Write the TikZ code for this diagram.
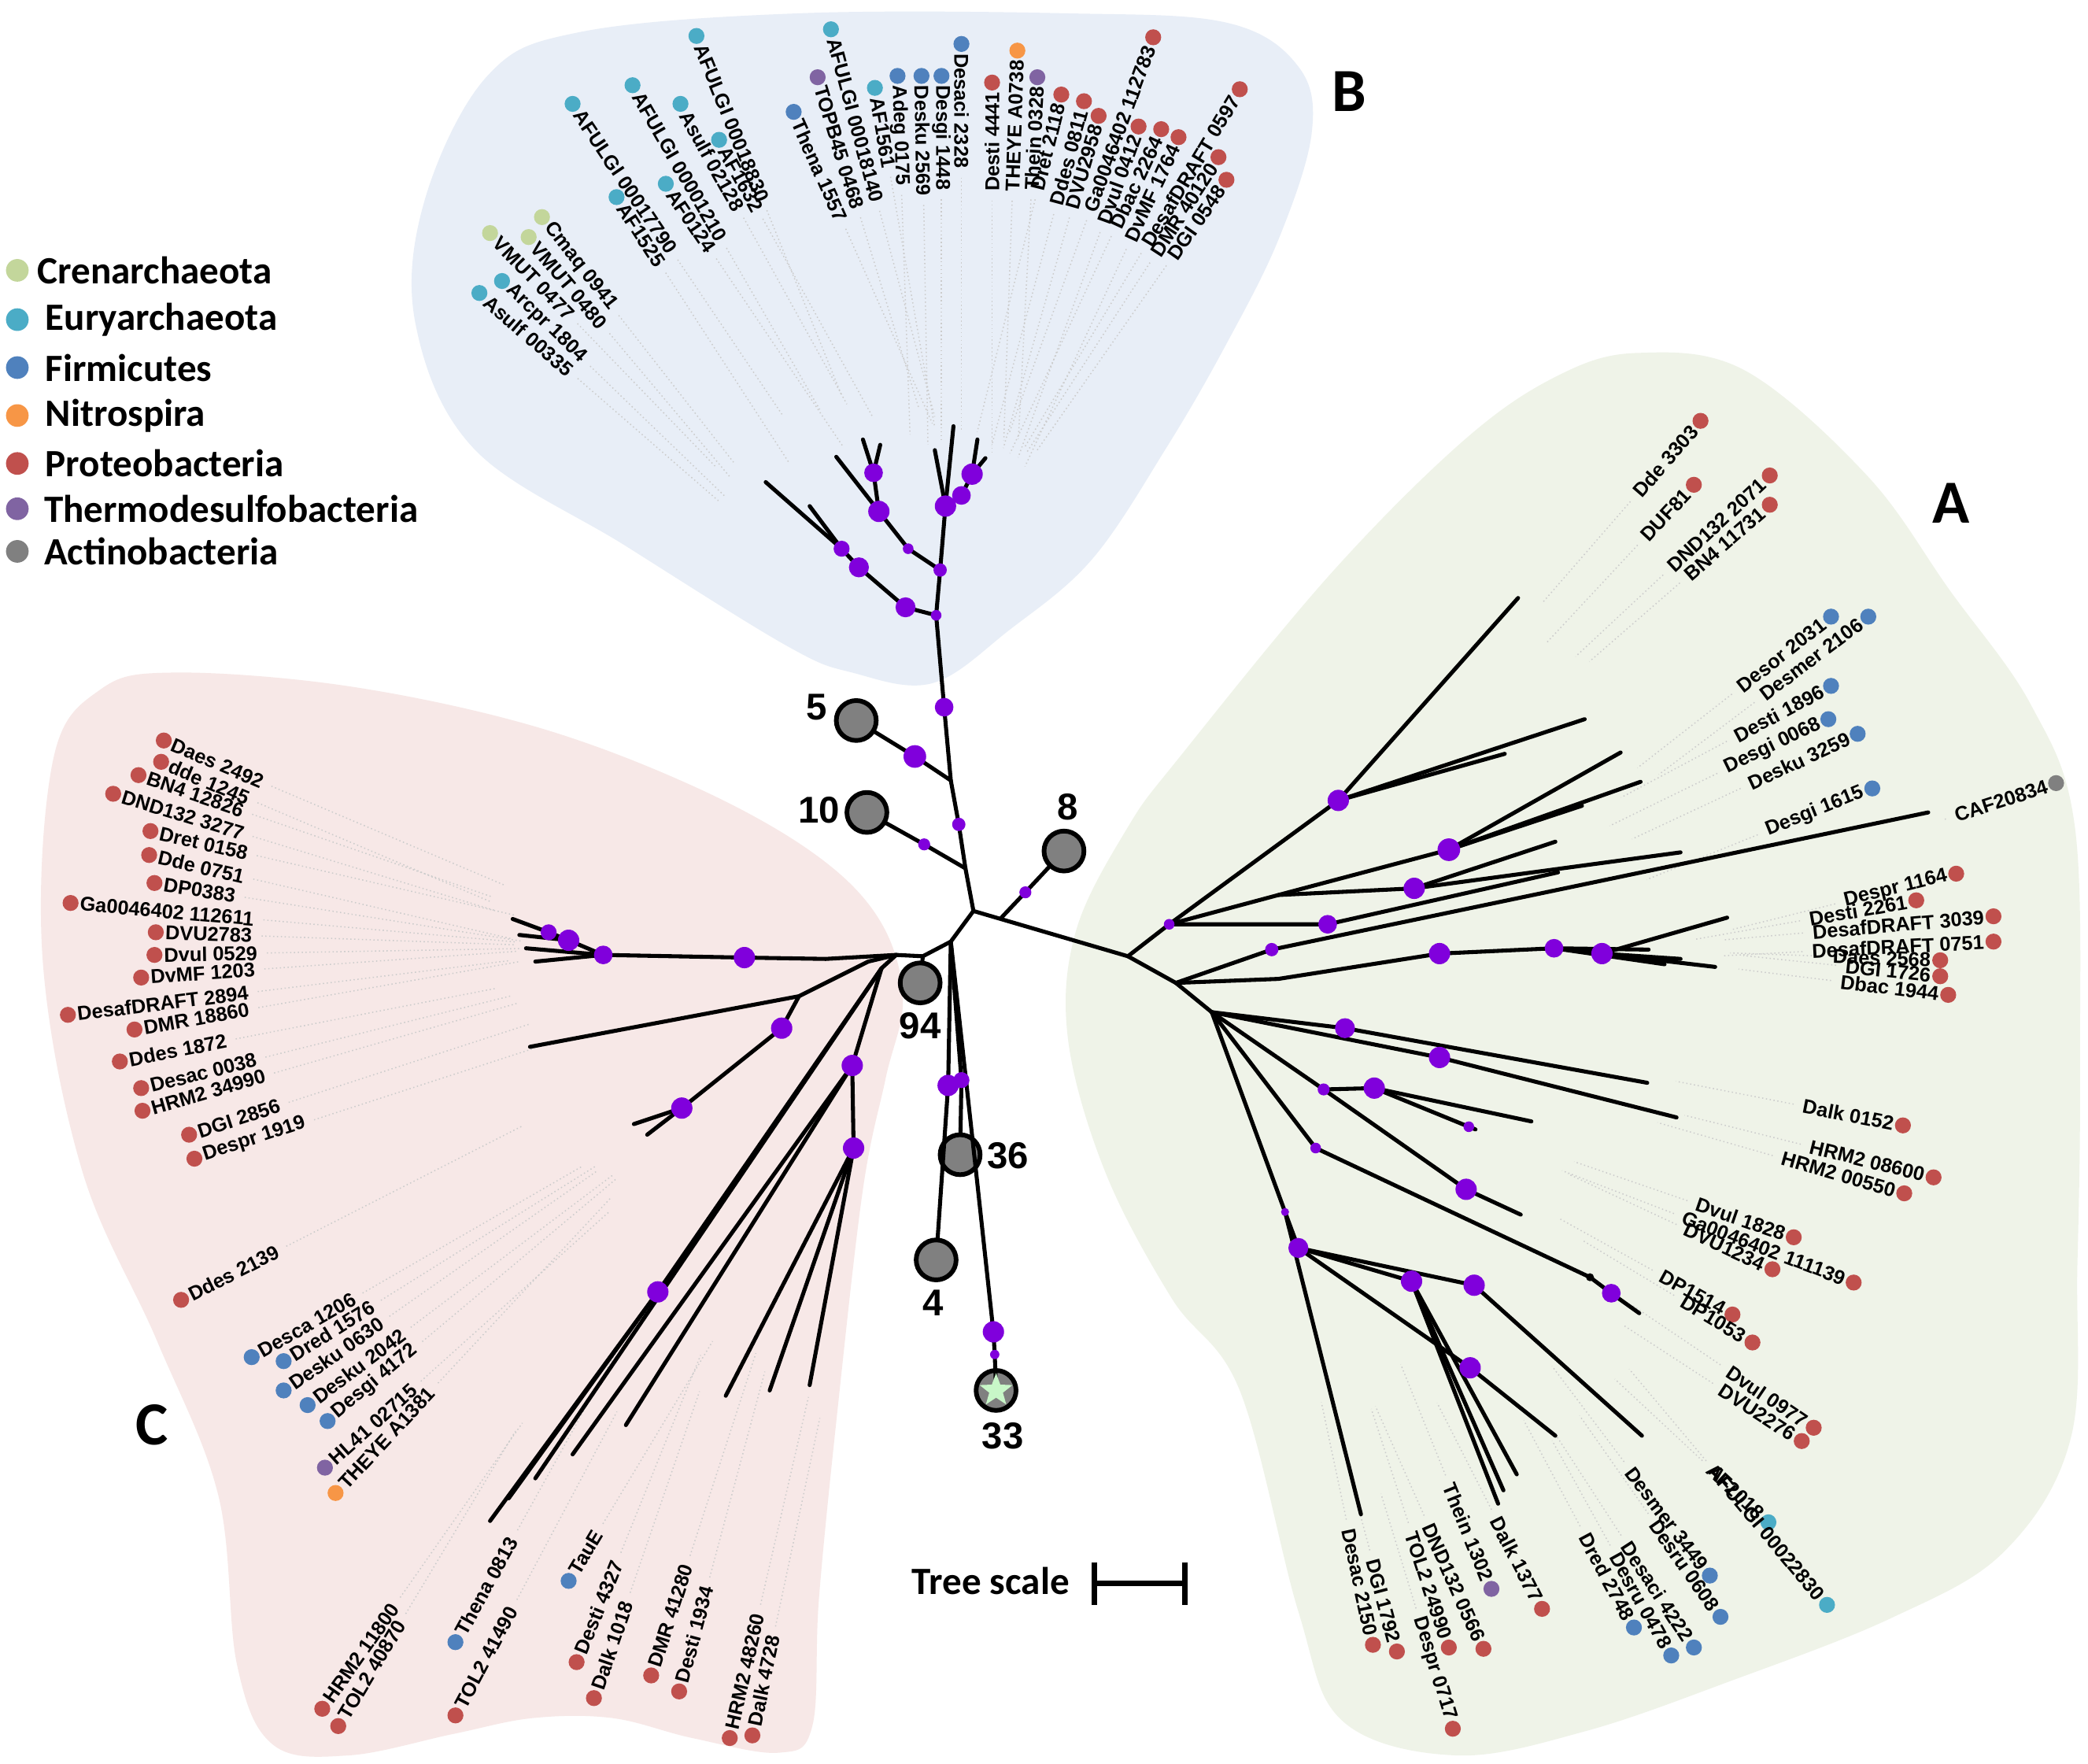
\documentclass[tikz,border=0pt]{standalone}
\usepackage{fontspec}
\setmainfont{Liberation Sans}
\newfontfamily\calfont{Carlito}
\usetikzlibrary{calc,shapes.geometric}
\pgfdeclarelayer{bg}
\pgfsetlayers{bg,main}
\definecolor{cren}{HTML}{C3D69B}
\definecolor{eury}{HTML}{4BACC6}
\definecolor{firm}{HTML}{4F81BD}
\definecolor{nitr}{HTML}{F79646}
\definecolor{prot}{HTML}{C0504D}
\definecolor{therm}{HTML}{8064A2}
\definecolor{actb}{HTML}{808080}
\definecolor{bbg}{HTML}{E8EEF7}
\definecolor{abg}{HTML}{EFF3E8}
\definecolor{cbg}{HTML}{F7E8E7}
\definecolor{boot}{HTML}{8000DC}
\definecolor{clgray}{HTML}{808080}
\definecolor{starg}{HTML}{C8F7C8}
\tikzset{
  br/.style={line width=3pt, line cap=round, line join=round},
  leafdot/.style={circle, fill=#1, minimum size=12pt, inner sep=0pt},
  bsd/.style={circle, fill=boot, minimum size=#1, inner sep=0pt},
  clps/.style={circle, draw=black, line width=3.5pt, fill=clgray, minimum size=30pt, inner sep=0pt},
  labtxt/.style={font=\fontsize{15}{15}\selectfont\bfseries, inner xsep=7pt, inner ysep=0pt},
  labbold/.style={font=\fontsize{15}{15}\selectfont\bfseries, inner xsep=7pt, inner ysep=0pt},
  leader/.style={draw=black!20, dotted, line width=0.9pt},
  numlab/.style={font=\fontsize{28}{28}\selectfont\bfseries, inner sep=0pt},
  legtxt/.style={font=\calfont\fontsize{29}{29}\selectfont\bfseries, anchor=west, inner sep=0pt},
  clade/.style={font=\calfont\fontsize{46}{46}\selectfont\bfseries, inner sep=0pt},
}
\begin{document}
\begin{tikzpicture}[x=1pt,y=-1pt]
\useasboundingbox (0,0) rectangle (1568,1324);
\begin{pgfonlayer}{bg}
\fill[white] (0,0) rectangle (1568,1324);
% clade backgrounds
\fill[bbg] plot[smooth cycle, tension=0.6] coordinates {(436,24) (600,10) (800,10) (921,17) (975,50) (985,100) (960,180) (920,260) (876,336) (820,420) (758,473) (700,513) (640,505) (591,485) (470,410) (356,337) (312,243) (319,150) (366,57)};
\fill[abg] plot[smooth cycle, tension=0.6] coordinates {(1230,265) (1310,278) (1402,357) (1464,443) (1525,529) (1558,620) (1562,800) (1560,950) (1555,1080) (1505,1165) (1420,1215) (1300,1262) (1190,1300) (1093,1318) (1008,1292) (975,1210) (931,1044) (880,975) (830,880) (802,780) (808,699) (847,621) (887,567) (1000,430) (1100,330) (1170,282)};
\fill[cbg] plot[smooth cycle, tension=0.6] coordinates {(40,570) (75,518) (130,505) (260,515) (400,545) (520,590) (610,640) (660,690) (678,749) (665,810) (648,893) (629,1058) (615,1200) (610,1296) (585,1316) (520,1305) (460,1290) (400,1290) (340,1302) (262,1318) (205,1310) (178,1250) (164,1123) (118,1007) (62,880) (32,720)};
\end{pgfonlayer}

% ---------- legend ----------
\foreach \c/\t/\yy/\xx [count=\i] in {cren/Crenarchaeota/203/28, eury/Euryarchaeota/240/34, firm/Firmicutes/276/34, nitr/Nitrospira/312/34, prot/Proteobacteria/348/34, therm/Thermodesulfobacteria/382/33, actb/Actinobacteria/414/33}{
  \node[circle, fill=\c, minimum size=17pt, inner sep=0pt] (lg\i) at (13,\yy) {};
  \node[legtxt] (lt\i) at (\xx,\yy) {\t};
}

% clade letters
\node[clade] (lA) at (1465,378) {A};
\node[clade] (lB) at (1013,69) {B};
\node[clade] (lC) at (114,1070) {C};

% ---------- tree coordinates ----------
\coordinate (c0) at (731,684);
\coordinate (b1) at (725,652);
\coordinate (b2) at (720,619);
\coordinate (b3) at (714,586);
\coordinate (b4) at (709,531);
\coordinate (b5) at (703,462);
\coordinate (k5) at (687,568);
\coordinate (k10) at (694,634);
\coordinate (k8) at (770,670);
\coordinate (r8) at (752,689);
% B fan
\coordinate (bA) at (680,456);
\coordinate (bB) at (645,426);
\coordinate (bC) at (632,412);
\coordinate (bD) at (706,428);
\coordinate (bE) at (682,412);
\coordinate (bF) at (660,384);
\coordinate (bG) at (656,355);
\coordinate (bH) at (710,380);
\coordinate (bI) at (722,372);
\coordinate (bJ) at (730,356);

% collapsed circles
\node[clps] (g5) at (643,541) {};
\node[clps] (g10) at (651,610) {};
\node[clps] (g8) at (799,639) {};
\node[clps] (g94) at (691,738) {};
\node[clps] (g36) at (721,867) {};
\node[clps] (g4) at (703,946) {};
\node[clps] (g33) at (748,1044) {};

% trunk and B
\draw[br] (c0) -- (b1) -- (b2) -- (b3) -- (b4) -- (b5);
\draw[br] (b3) -- (k5) -- (g5);
\draw[br] (b1) -- (k10) -- (g10);
\draw[br] (r8) -- (k8) -- (g8);
\draw[br] (b5) -- (bA) -- (bB) -- (bC) -- (575,362);
\draw[br] (bC) -- (608,380);
\draw[br] (b5) -- (bD) -- (bE) -- (bF) -- (628,343);
\draw[br] (bF) -- (bG) -- (648,330);
\draw[br] (bG) -- (661,334);
\draw[br] (bD) -- (bH) -- (716,320);
\draw[br] (bH) -- (bI) -- (bJ) -- (740,344);
\draw[br] (bJ) -- (734,330);
\draw[br] (bH) -- (702,338);

% A
\coordinate (a1) at (847,718);
\coordinate (a2) at (878,694);
\coordinate (a3) at (883,738);
\draw[br] (c0) -- (a1) -- (a3);
\draw[br] (a1) -- (a2);
\coordinate (au2) at (960,672);
\coordinate (pu1) at (1005,601);
\coordinate (pu2) at (1088,638);
\coordinate (pu3) at (1062,667);
\coordinate (pu4) at (997,694);
\coordinate (pu5) at (955,713);
\draw[br] (a2) -- (pu1) -- (1140,449);
\draw[br] (pu1) -- (1190,540);
\draw[br] (pu1) -- (1130,566);
\draw[br] (a2) -- (au2) -- (pu2) -- (1232,587);
\draw[br] (pu2) -- (1217,565);
\draw[br] (pu2) -- (1188,605);
\draw[br] (au2) -- (pu3) -- (1262,640);
\draw[br] (pu3) -- (1168,632);
\draw[br] (a2) -- (pu4) -- (1170,655);
\draw[br] (a3) -- (pu5) -- (1448,610);
\coordinate (am) at (960,735);
\coordinate (pm1) at (1081,716);
\coordinate (pm2) at (1167,712);
\coordinate (pm3) at (1203,716);
\draw[br] (a3) -- (am) -- (pm1) -- (pm2) -- (pm3) -- (1297,689);
\draw[br] (pm3) -- (1288,726);
\draw[br] (pm3) -- (1262,720);
\draw[br] (pm2) -- (1250,724);
\draw[br] (pm2) -- (1238,713);
\coordinate (al0) at (910,760);
\coordinate (pl1) at (1010,772);
\coordinate (pl2) at (1081,794);
\coordinate (pl3) at (994,818);
\coordinate (pl4) at (1032,817);
\coordinate (pl5) at (1103,846);
\coordinate (pl6) at (1101,893);
\coordinate (pl7) at (988,862);
\coordinate (kn1) at (1194,959);
\coordinate (pl8) at (1210,971);
\coordinate (pl9) at (965,910);
\coordinate (pl10) at (975,937);
\coordinate (pl11) at (1060,962);
\coordinate (pl12) at (1107,965);
\coordinate (pl13) at (1104,1027);
\draw[br] (a3) -- (al0);
\draw[br] (al0) -- (pl1) -- (1237,813);
\draw[br] (al0) -- (pl2) -- (1259,839);
\draw[br] (al0) -- (pl3) -- (pl4) -- (pl5) -- (1108,848);
\draw[br] (pl4) -- (1150,842);
\draw[br] (pl3) -- (pl6) -- (1142,912);
\draw[br] (al0) -- (pl7) -- (kn1) -- (pl8) -- (1231,986);
\draw[br] (al0) -- (pl9) -- (1022,1137);
\draw[br] (pl9) -- (pl10) -- (pl11) -- (1139,1107);
\draw[br] (pl11) -- (1129,1119);
\draw[br] (pl11) -- (1125,1129);
\draw[br] (pl10) -- (pl12) -- (1233,1078);
\draw[br] (pl10) -- (pl13) -- (1168,1078);
\fill (kn1) circle (3pt);

% C
\coordinate (cc1) at (714,707);
\coordinate (cc2) at (693,718);
\coordinate (nC) at (673,717);
\coordinate (cu1) at (620,720);
\coordinate (pc1) at (559,719);
\coordinate (pc2) at (453,717);
\coordinate (pc3) at (427,706);
\coordinate (pc4) at (412,700);
\draw[br] (c0) -- (cc1) -- (cc2) -- (nC) -- (cu1) -- (pc1) -- (pc2) -- (pc3) -- (pc4) -- (385,690);
\draw[br] (pc3) -- (390,702);
\draw[br] (pc2) -- (395,712);
\draw[br] (pc2) -- (402,722);
\draw[br] (cc2) -- (g94);
\coordinate (cm0) at (652,722);
\coordinate (cm1) at (600,748);
\coordinate (pcm) at (587,772);
\coordinate (pcm2) at (512,832);
\draw[br] (nC) -- (cm0) -- (cm1) -- (398,786);
\draw[br] (cm1) -- (pcm) -- (pcm2) -- (476,844);
\draw[br] (pcm2) -- (486,852);
\coordinate (cl0) at (662,727);
\coordinate (pcl1) at (494,970);
\coordinate (pcl2) at (640,800);
\coordinate (pcl3) at (641,862);
\draw[br] (nC) -- (cl0) -- (pcl1) -- (368,1142);
\draw[br] (pcl1) -- (382,1125);
\draw[br] (cl0) -- (402,1110);
\draw[br] (cl0) -- (pcl2) -- (430,1092);
\draw[br] (pcl2) -- (470,1070);
\draw[br] (pcl2) -- (pcl3) -- (608,1040);
\draw[br] (pcl3) -- (545,1048);
\draw[br] (pcl3) -- (578,1044);

% 94/36/4/33
\coordinate (pd1) at (712,815);
\coordinate (pd2) at (722,811);
\coordinate (pd3) at (746,1000);
\coordinate (pd4) at (747,1017);
\draw[br] (cc1) -- (pd1) -- (g4);
\draw[br] (cc1) -- (pd2) -- (g36);
\draw[br] (cc1) -- (733,880) -- (pd3) -- (pd4) -- (g33.center);
\node[star, star points=5, star point ratio=2.4, fill=starg, minimum size=26pt, inner sep=0pt] (st33) at (g33) {};

% bootstrap dots
\foreach \p/\s [count=\i] in {b2/10pt, b4/14pt, b5/8pt, k5/17pt, k10/9pt, k8/9pt, bA/15pt, bB/15pt, bC/12pt, bD/10pt, bE/8pt, bF/16pt, bG/14pt, bH/16pt, bI/14pt, bJ/16pt, a2/8pt, pu1/16pt, pu2/17pt, pu3/16pt, pu4/14pt, pu5/10pt, pm1/16pt, pm2/14pt, pm3/16pt, pl1/15pt, pl2/16pt, pl3/9pt, pl4/16pt, pl5/8pt, pl6/16pt, pl7/8pt, pl8/14pt, pl9/6pt, pl10/15pt, pl11/16pt, pl12/16pt, pl13/16pt, pc1/16pt, pc2/14pt, pc3/16pt, pc4/12pt, pcm/16pt, pcm2/16pt, pcl1/16pt, pcl2/16pt, pcl3/16pt, pd1/16pt, pd2/12pt, pd3/16pt, pd4/7pt}{
  \node[bsd=\s] (bs\i) at (\p) {};
}

% numbers
\node[numlab] (n5) at (613,531) {5};
\node[numlab] (n10) at (615,608) {10};
\node[numlab] (n8) at (802,606) {8};
\node[numlab] (n94) at (691,770) {94};
\node[numlab] (n36) at (757,868) {36};
\node[numlab] (n4) at (701,978) {4};
\node[numlab] (n33) at (753,1078) {33};

% tree scale
\node[font=\calfont\fontsize{29}{29}\selectfont\bfseries, inner sep=0pt] (ts) at (744,1187) {Tree scale};
\coordinate (sc1) at (822,1189);
\coordinate (sc2) at (890,1189);
\draw[line width=4pt] (sc1) -- (sc2);
\draw[line width=4pt] ($(sc1)+(0,-16)$) -- ($(sc1)+(0,16)$);
\draw[line width=4pt] ($(sc2)+(0,-16)$) -- ($(sc2)+(0,16)$);

% ---------- leaves reading away from the dot ----------
\foreach \x/\y/\r/\c/\t/\l [count=\i] in {
360/220/-41/eury/Asulf 00335/140, 377/211/-44/eury/Arcpr 1804/140, 368/175/-46/cren/VMUT 0477/150, 397/178/-50/cren/VMUT 0480/140, 407/163/-52/cren/Cmaq 0941/140, 463/148/-57/eury/AF1525/170, 430/78/-56/eury/AFULGI 00017790/140, 500/138/-56/eury/AF0124/170, 475/64/-60/eury/AFULGI 00001210/140, 511/78/-61/eury/Asulf 02128/160, 540/105/-61/eury/AF1632/170, 523/27/-68/eury/AFULGI 00018830/150, 596/84/-66/firm/Thena 1557/160, 614/58/-73/therm/TOPB45 0468/150, 624/22/-75/eury/AFULGI 00018140/160, 657/66/-80/eury/AF1561/190, 674/57/-88/firm/Adeg 0175/180, 692/57/-89/firm/Desku 2569/180, 707/57/-90/firm/Desgi 1448/180, 722/33/-90/firm/Desaci 2328/190}{
  \node[leafdot=\c] (dL\i) at (\x,\y) {};
  \node[labtxt, rotate=\r, anchor=west] (tL\i) at (dL\i.center) {\t};
  \begin{pgfonlayer}{bg}
  \draw[leader] (tL\i.east) -- ($(tL\i.east)!-\l pt!(tL\i.west)$);
  \end{pgfonlayer}
}
\foreach \x/\y/\r/\c/\t/\l [count=\i] in {
123/556/-23/prot/Daes 2492/190, 121/572/-23/prot/dde 1245/190, 104/582/-19/prot/BN4 12826/190, 85/596/-17/prot/DND132 3277/190, 113/624/-13/prot/Dret 0158/200, 112/642/-13/prot/Dde 0751/200, 116/663/-9/prot/DP0383/210, 53/678/-5/prot/Ga0046402 112611/190, 117/700/-2/prot/DVU2783/190, 116/717/1/prot/Dvul 0529/190, 106/734/4/prot/DvMF 1203/190, 51/762/7/prot/DesafDRAFT 2894/190, 101/773/10/prot/DMR 18860/200, 90/797/11/prot/Ddes 1872/200, 106/817/14/prot/Desac 0038/190, 107/834/16/prot/HRM2 34990/190, 142/852/18/prot/DGI 2856/190, 146/870/18/prot/Despr 1919/190,
136/976/27/prot/Ddes 2139/200, 189/1019/30/firm/Desca 1206/190, 213/1022/32/firm/Dred 1576/190, 213/1044/35/firm/Desku 0630/190, 231/1055/37/firm/Desku 2042/190, 246/1067/40/firm/Desgi 4172/190, 244/1102/42/therm/HL41 02715/190, 252/1121/47/nitr/THEYE A1381/190,
242/1283/55/prot/HRM2 11800/160, 254/1296/59/prot/TOL2 40870/160, 342/1233/61/firm/Thena 0813/160, 342/1288/62/prot/TOL2 41490/160, 427/1187/59/firm/TauE/160, 433/1248/68/prot/Desti 4327/160, 446/1275/71/prot/Dalk 1018/160, 489/1258/72/prot/DMR 41280/160, 510/1270/75/prot/Desti 1934/160, 548/1305/77/prot/HRM2 48260/160, 565/1303/78/prot/Dalk 4728/160}{
  \node[leafdot=\c] (dC\i) at (\x,\y) {};
  \node[labbold, rotate=\r, anchor=west] (tC\i) at (dC\i.center) {\t};
  \begin{pgfonlayer}{bg}
  \draw[leader] (tC\i.east) -- ($(tC\i.east)!-\l pt!(tC\i.west)$);
  \end{pgfonlayer}
}
% ---------- leaves reading toward the dot ----------
\foreach \x/\y/\r/\c/\t/\l [count=\i] in {
745/62/90/prot/Desti 4441/190, 764/38/88/nitr/THEYE A0738/180, 779/58/87/therm/Thein 0328/180, 797/71/76/prot/Dret 2118/180, 814/76/75/prot/Ddes 0811/180, 825/87/74/prot/DVU2958/180, 866/28/70/prot/Ga0046402 112783/170, 855/95/70/prot/Dvul 0412/180, 872/97/65/prot/Dbac 2264/180, 885/103/65/prot/DvMF 1764/180, 931/67/59/prot/DesafDRAFT 0597/170, 915/118/57/prot/DMR 40120/170, 921/135/55/prot/DGI 0548/170,
1277/316/49/prot/Dde 3303/100, 1272/364/47/prot/DUF81/100, 1329/357/43/prot/DND132 2071/90, 1329/379/41/prot/BN4 11731/90, 1375/463/38/firm/Desor 2031/90, 1403/463/37/firm/Desmer 2106/90, 1375/515/28/firm/Desti 1896/90, 1373/540/26/firm/Desgi 0068/90, 1395/551/25/firm/Desku 3259/90, 1406/592/22/firm/Desgi 1615/90, 1544/588/18/actb/CAF20834/1, 1469/656/14/prot/Despr 1164/80, 1439/676/10/prot/Desti 2261/80, 1497/688/5/prot/DesafDRAFT 3039/60, 1497/707/3/prot/DesafDRAFT 0751/60, 1457/721/-2/prot/Daes 2568/70, 1457/733/-6/prot/DGI 1726/70, 1463/747/-7/prot/Dbac 1944/70,
1429/845/-11/prot/Dalk 0152/90, 1452/884/-14/prot/HRM2 08600/90, 1430/896/-16/prot/HRM2 00550/90, 1347/929/-19/prot/Dvul 1828/90, 1392/963/-21/prot/Ga0046402 111139/90, 1331/953/-25/prot/DVU1234/90, 1301/987/-29/prot/DP1514/80, 1316/1008/-31/prot/DP1053/80, 1362/1072/-34/prot/Dvul 0977/80, 1353/1082/-33/prot/DVU2276/80,
1328/1143/-43/eury/AF2018/90, 1372/1205/-50/eury/AFULGI 00022830/90, 1284/1183/-53/firm/Desmer 3449/90, 1292/1214/-55/firm/Desru 0608/90, 1272/1237/-57/firm/Desaci 4222/90, 1255/1243/-61/firm/Desru 0478/90, 1227/1222/-62/firm/Dred 2748/90, 1158/1208/-63/prot/Dalk 1377/90, 1120/1193/-68/therm/Thein 1302/90, 1114/1238/-66/prot/DND132 0566/90, 1088/1237/-72/prot/TOL2 24990/90, 1091/1298/-73/prot/Despr 0717/90, 1049/1240/-75/prot/DGI 1792/90, 1031/1235/-78/prot/Desac 2150/90}{
  \node[leafdot=\c] (dR\i) at (\x,\y) {};
  \node[labtxt, rotate=\r, anchor=east] (tR\i) at (dR\i.center) {\t};
  \begin{pgfonlayer}{bg}
  \draw[leader] (tR\i.west) -- ($(tR\i.west)!-\l pt!(tR\i.east)$);
  \end{pgfonlayer}
}
\end{tikzpicture}
\end{document}
